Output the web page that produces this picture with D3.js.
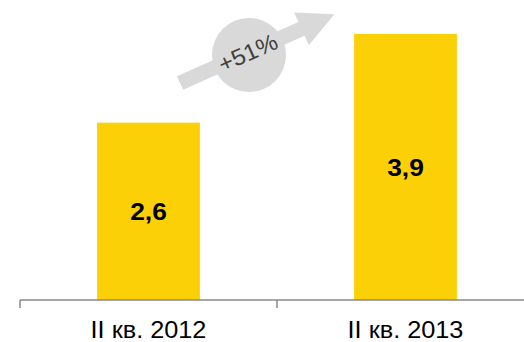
<!DOCTYPE html>
<html>
<head>
<meta charset="utf-8">
<script src="https://cdn.jsdelivr.net/npm/d3@7"></script>
<style>
  html, body { margin: 0; padding: 0; background: #fff; }
  svg { display: block; }
</style>
</head>
<body>
<svg id="chart" width="524" height="342"></svg>
<script>
// Quarterly values (II quarter of each year)
const categories = ["II кв. 2012", "II кв. 2013"];
const values = [2.6, 3.9];
const valueLabels = ["2,6", "3,9"];
const growthLabel = "+51%";

const svg = d3.select("#chart");
const font = "Liberation Sans, Arial, sans-serif";
const stretch = 1.1; // slightly widened lettering

const baseY = 300;
const x = d3.scaleBand().domain(categories).range([20, 534]).padding(0);
const y = d3.scaleLinear().domain([0, 3.9]).range([baseY, 34]);
const barW = x.bandwidth() * 0.4;
const cx = c => x(c) + x.bandwidth() / 2;

// Bars
svg.append("g").selectAll("rect")
  .data(values)
  .join("rect")
  .attr("x", (d, i) => cx(categories[i]) - barW / 2)
  .attr("y", d => y(d))
  .attr("width", barW)
  .attr("height", d => y(0) - y(d))
  .attr("fill", "#FCD006");

// Value labels centred inside bars
svg.append("g").selectAll("text")
  .data(values)
  .join("text")
  .attr("transform", (d, i) =>
    `translate(${cx(categories[i])},${(y(d) + y(0)) / 2 + 9}) scale(${stretch},1)`)
  .attr("text-anchor", "middle")
  .attr("font-family", font)
  .attr("font-weight", "bold")
  .attr("font-size", 24)
  .attr("fill", "#000")
  .text((d, i) => valueLabels[i]);

// Category axis with ticks on band boundaries
const axis = svg.append("g").attr("stroke", "#898989").attr("stroke-width", 1.5);
const edges = categories.map(c => x(c)).concat([x.range()[1]]);
axis.append("line")
  .attr("x1", x.range()[0]).attr("x2", x.range()[1])
  .attr("y1", baseY).attr("y2", baseY);
axis.selectAll("line.tick")
  .data(edges)
  .join("line")
  .attr("class", "tick")
  .attr("x1", d => d).attr("x2", d => d)
  .attr("y1", baseY).attr("y2", baseY + 8);

svg.append("g").selectAll("text")
  .data(categories)
  .join("text")
  .attr("transform", d => `translate(${cx(d)},338) scale(${stretch},1)`)
  .attr("text-anchor", "middle")
  .attr("font-family", font)
  .attr("font-size", 23)
  .attr("fill", "#000")
  .text(d => d);

// Growth arrow with circular badge
const angle = -24;
const L = 169, half = 7.5, headLen = 36, headHalf = 18;
const arrowPts = [
  [0, -half], [L - headLen, -half], [L - headLen, -headHalf], [L, 0],
  [L - headLen, headHalf], [L - headLen, half], [0, half]
];
svg.append("g")
  .attr("transform", `translate(180,83) rotate(${angle})`)
  .append("path")
  .attr("d", d3.line()(arrowPts) + "Z")
  .attr("fill", "#D9D9D9");

svg.append("circle")
  .attr("cx", 249).attr("cy", 55).attr("r", 37)
  .attr("fill", "#D9D9D9");

svg.append("text")
  .attr("transform", `translate(248,53) rotate(${angle}) scale(1.05,1)`)
  .attr("text-anchor", "middle")
  .attr("dominant-baseline", "central")
  .attr("font-family", font)
  .attr("font-size", 23)
  .attr("fill", "#404040")
  .text(growthLabel);
</script>
</body>
</html>
